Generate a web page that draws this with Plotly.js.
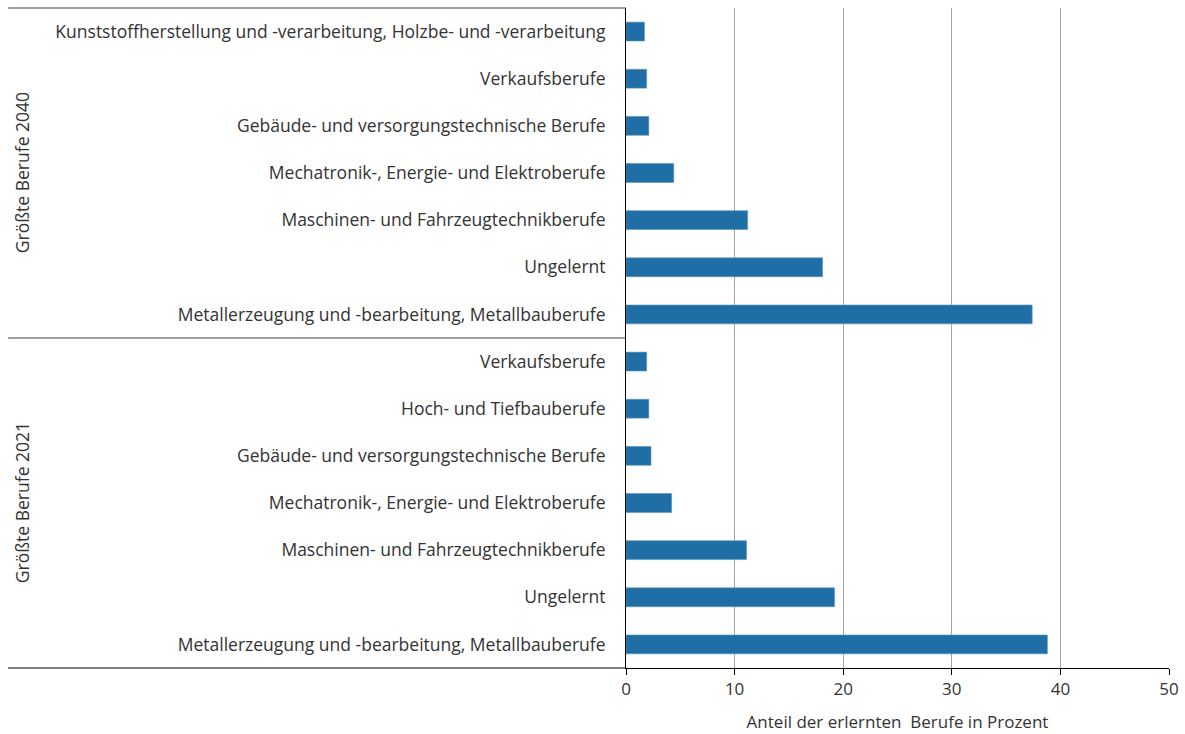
<!DOCTYPE html>
<html>
<head>
<meta charset="utf-8">
<script src="https://cdn.plot.ly/plotly-3.0.1.min.js"></script>
<style>
  html, body { margin: 0; padding: 0; background: #ffffff; }
  #chart { width: 1185px; height: 734px; }
</style>
</head>
<body>
<div id="chart"></div>
<script>
// Occupation groups, listed top to bottom within each block
const groupNames = ['Größte Berufe 2040', 'Größte Berufe 2021'];

const berufe2040 = [
  'Kunststoffherstellung und -verarbeitung, Holzbe- und -verarbeitung',
  'Verkaufsberufe',
  'Gebäude- und versorgungstechnische Berufe',
  'Mechatronik-, Energie- und Elektroberufe',
  'Maschinen- und Fahrzeugtechnikberufe',
  'Ungelernt',
  'Metallerzeugung und -bearbeitung, Metallbauberufe'
];
const anteil2040 = [1.7, 1.9, 2.1, 4.4, 11.2, 18.1, 37.4];

const berufe2021 = [
  'Verkaufsberufe',
  'Hoch- und Tiefbauberufe',
  'Gebäude- und versorgungstechnische Berufe',
  'Mechatronik-, Energie- und Elektroberufe',
  'Maschinen- und Fahrzeugtechnikberufe',
  'Ungelernt',
  'Metallerzeugung und -bearbeitung, Metallbauberufe'
];
const anteil2021 = [1.9, 2.1, 2.3, 4.2, 11.1, 19.2, 38.8];

const xTicks = [0, 10, 20, 30, 40, 50];
const xTitle = 'Anteil der erlernten\u00a0 Berufe in Prozent';

// Stack both blocks into one row sequence (row 0 at the top)
const labels = berufe2040.concat(berufe2021);
const values = anteil2040.concat(anteil2021);
const rows = labels.map((_, i) => i);
const n2040 = berufe2040.length;

const textColor = '#333333';
const font = { family: 'Open Sans, Liberation Sans, sans-serif', size: 17.5, color: textColor };
const tickFont = { family: 'Open Sans, Liberation Sans, sans-serif', size: 17, color: textColor };

const trace = {
  type: 'bar',
  orientation: 'h',
  x: values,
  y: rows,
  width: 0.4,
  marker: { color: '#1f6ea5', line: { color: '#5b93c0', width: 0.6 } },
  hoverinfo: 'x+text',
  text: labels,
  textposition: 'none'
};

const layout = {
  width: 1185,
  height: 734,
  margin: { l: 626, r: 16, t: 8, b: 66 },
  paper_bgcolor: '#ffffff',
  plot_bgcolor: '#ffffff',
  font: font,
  showlegend: false,
  bargap: 0.6,
  xaxis: {
    range: [0, 50],
    tickvals: xTicks,
    ticktext: xTicks.map(String),
    showgrid: true,
    gridcolor: '#a6a6a6',
    gridwidth: 1,
    zeroline: false,
    showline: true,
    linecolor: '#000000',
    linewidth: 1,
    ticks: 'outside',
    ticklen: 6,
    tickcolor: '#000000',
    tickfont: tickFont,
    title: { text: xTitle, font: tickFont, standoff: 16 },
    fixedrange: true
  },
  yaxis: {
    range: [labels.length - 0.5, -0.5],
    tickvals: rows,
    ticktext: labels,
    showgrid: false,
    zeroline: false,
    showline: true,
    linecolor: '#000000',
    linewidth: 1,
    ticks: '',
    ticklabelstandoff: 16,
    tickfont: font,
    fixedrange: true
  },
  shapes: [
    // top rule across the label column
    { type: 'line', xref: 'paper', yref: 'paper', x0: -1.138, x1: 0, y0: 1, y1: 1,
      line: { color: '#404040', width: 1 } },
    // divider between the two blocks
    { type: 'line', xref: 'paper', yref: 'y', x0: -1.138, x1: 0, y0: n2040 - 0.5, y1: n2040 - 0.5,
      line: { color: '#404040', width: 1 } },
    // baseline continued under the label column
    { type: 'line', xref: 'paper', yref: 'paper', x0: -1.138, x1: 0, y0: 0, y1: 0,
      line: { color: '#000000', width: 1 } }
  ],
  annotations: [
    { xref: 'paper', yref: 'y', x: -1.112, y: (n2040 - 1) / 2, text: groupNames[0],
      showarrow: false, textangle: -90, font: font, xanchor: 'center', yanchor: 'middle' },
    { xref: 'paper', yref: 'y', x: -1.112, y: n2040 + (berufe2021.length - 1) / 2, text: groupNames[1],
      showarrow: false, textangle: -90, font: font, xanchor: 'center', yanchor: 'middle' }
  ]
};

Plotly.newPlot('chart', [trace], layout, { displayModeBar: false, staticPlot: true });
</script>
</body>
</html>
